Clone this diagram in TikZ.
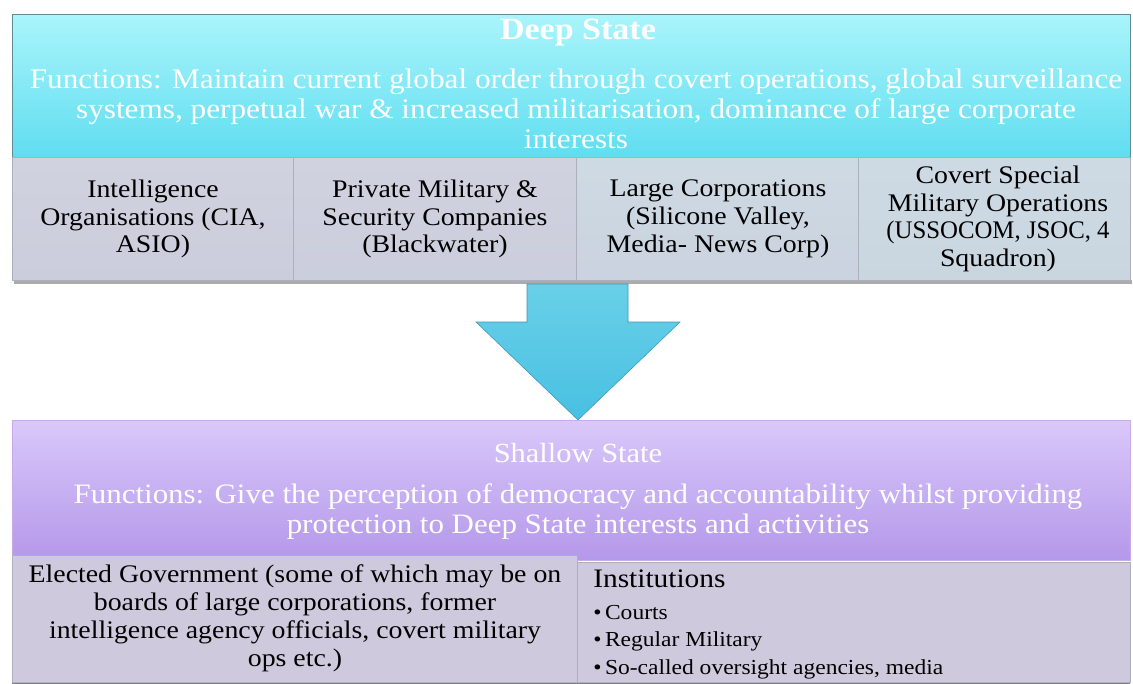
\documentclass[tikz,border=0pt]{standalone}
\usepackage{fontspec}
\setmainfont{Liberation Serif}[FakeStretch=1.1]
\newfontfamily\narrowserif{Liberation Serif}[FakeStretch=0.98]
\usetikzlibrary{positioning,shadings}
\definecolor{deepTop}{RGB}{170,245,251}
\definecolor{deepBot}{RGB}{96,221,240}
\definecolor{deepLine}{RGB}{95,140,150}
\definecolor{cellA}{RGB}{203,205,220}
\definecolor{cellB}{RGB}{201,214,224}
\definecolor{cellLine}{RGB}{172,176,188}
\definecolor{arrowTop}{RGB}{105,208,232}
\definecolor{arrowBot}{RGB}{72,192,226}
\definecolor{arrowLine}{RGB}{60,150,185}
\definecolor{shallowTop}{RGB}{218,200,250}
\definecolor{shallowBot}{RGB}{180,152,234}
\definecolor{shallowLine}{RGB}{200,170,230}
\definecolor{lowCell}{RGB}{207,201,221}
\tikzset{
  deepbox/.style={draw=deepLine,thin,top color=deepTop,bottom color=deepBot},
  shallowbox/.style={draw=shallowLine,thin,top color=shallowTop,bottom color=shallowBot},
  cell/.style={draw=cellLine,thin},
  headtxt/.style={text=white,align=center,inner sep=0pt},
  celltxt/.style={align=center,inner sep=0pt,font=\fontsize{18}{19.7}\selectfont},
}
\begin{document}
\begin{tikzpicture}[x=0.025cm,y=-0.025cm]
\useasboundingbox (0,0) rectangle (1133,684);
% deep state
\draw[deepbox] (12,14) rectangle (1130,157);
\node[headtxt,font=\bfseries\fontsize{22}{24}\selectfont] (deep) at (578,33) {Deep State};
\node[headtxt,font=\fontsize{20.2}{21.3}\selectfont] (deepfn) at (576,109)
  {Functions: Maintain current global order through covert operations, global surveillance\\
   systems, perpetual war \& increased militarisation, dominance of large corporate\\
   interests};
% the four branches
\fill[black!55,opacity=.6] (14,280) rectangle (1132,284);
\draw[cell,top color=cellA!90!white,bottom color=cellA] (12,157) rectangle (293,280);
\draw[cell,top color=cellA!90!white,bottom color=cellA!95!cellB] (293,157) rectangle (576,280);
\draw[cell,top color=cellB!90!white,bottom color=cellA!40!cellB] (576,157) rectangle (858,280);
\draw[cell,top color=cellB!90!white,bottom color=cellB] (858,157) rectangle (1130,280);
\node[celltxt] (intel) at (153,219) {Intelligence\\Organisations (CIA,\\ASIO)};
\node[celltxt] (pmsc) at (435,219) {Private Military \&\\Security Companies\\(Blackwater)};
\node[celltxt] (corp) at (718,219) {Large Corporations\\(Silicone Valley,\\Media- News Corp)};
\node[celltxt] (covert) at (998,219) {Covert Special\\Military Operations\\{\narrowserif(USSOCOM, JSOC, 4}\\Squadron)};
% arrow down
\draw[arrowLine,thin,top color=arrowTop,bottom color=arrowBot]
  (527,284) -- (628,284) -- (628,322) -- (680,322) -- (578,420) -- (476,322) -- (527,322) -- cycle;
% shallow state
\draw[shallowbox] (12,420) rectangle (1130,560);
\node[headtxt,font=\fontsize{19.7}{21}\selectfont] (shallow) at (578,453) {Shallow State};
\node[headtxt,font=\fontsize{20}{21.3}\selectfont] (shallowfn) at (578,512)
  {Functions: Give the perception of democracy and accountability whilst providing\\
   protection to Deep State interests and activities};
\fill[black!70,opacity=.7] (12,684) rectangle (1130,681);
\draw[cell,fill=lowCell] (12,555) rectangle (577,682);
\draw[cell,fill=lowCell] (577,562) rectangle (1130,682);
\node[align=center,inner sep=0pt,font=\fontsize{18}{19.9}\selectfont] (govt) at (295,618)
  {Elected Government (some of which may be on\\boards of large corporations, former\\
   intelligence agency officials, covert military\\ops etc.)};
\node[anchor=west,inner sep=0pt,font=\fontsize{19}{19}\selectfont] (inst) at (593,579) {Institutions};
\node[anchor=north west,align=left,inner sep=0pt,font=\fontsize{15.2}{19.4}\selectfont] (instlist) at (593,605)
  {\textbullet\,Courts\\\textbullet\,Regular Military\\\textbullet\,So-called oversight agencies, media};
\end{tikzpicture}
\end{document}
